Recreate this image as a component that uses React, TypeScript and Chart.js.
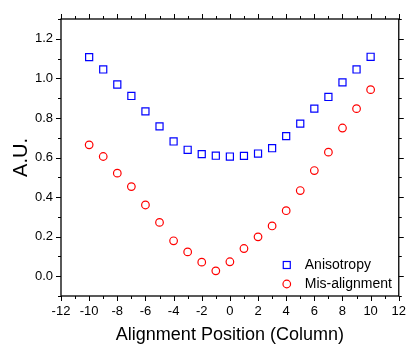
import React, { useEffect, useRef } from "react";
import { Chart, registerables } from "chart.js";

Chart.register(...registerables);

const positions = [-10, -9, -8, -7, -6, -5, -4, -3, -2, -1, 0, 1, 2, 3, 4, 5, 6, 7, 8, 9, 10];
const anisotropy = [1.107, 1.045, 0.969, 0.911, 0.833, 0.757, 0.681, 0.639, 0.617, 0.609, 0.605, 0.608, 0.62, 0.647, 0.708, 0.771, 0.847, 0.906, 0.98, 1.045, 1.109];
const misalignment = [0.664, 0.605, 0.521, 0.453, 0.36, 0.272, 0.179, 0.123, 0.071, 0.027, 0.073, 0.14, 0.199, 0.254, 0.331, 0.433, 0.534, 0.627, 0.749, 0.847, 0.943];
const xTickLabels = [-12, -10, -8, -6, -4, -2, 0, 2, 4, 6, 8, 10, 12];
const yTickLabels = [0.0, 0.2, 0.4, 0.6, 0.8, 1.0, 1.2];
const seriesNames = ["Anisotropy", "Mis-alignment"];
const xTitle = "Alignment Position (Column)";
const yTitle = "A.U.";

const FONT = "'Liberation Sans', Arial, sans-serif";

const framePlugin = {
  id: "frameTicks",
  afterDraw(chart: any) {
    const { ctx, chartArea } = chart;
    const { left, right, top, bottom } = chartArea;
    const xs = chart.scales.x;
    const ys = chart.scales.y;
    ctx.save();
    ctx.strokeStyle = "#000";
    ctx.lineWidth = 1.3;
    ctx.strokeRect(left, top, right - left, bottom - top);
    ctx.lineWidth = 1;
    ctx.beginPath();
    for (let v = -12; v <= 12; v++) {
      const p = Math.round(xs.getPixelForValue(v)) + 0.5;
      const len = v % 2 === 0 ? 5 : 3;
      ctx.moveTo(p, bottom);
      ctx.lineTo(p, bottom + len);
      ctx.moveTo(p, top);
      ctx.lineTo(p, top - len);
    }
    for (let i = -1; i <= 13; i++) {
      const v = i / 10;
      const p = Math.round(ys.getPixelForValue(v)) + 0.5;
      const len = i % 2 === 0 ? 5 : 3;
      ctx.moveTo(left, p);
      ctx.lineTo(left - len, p);
      ctx.moveTo(right, p);
      ctx.lineTo(right + len, p);
    }
    ctx.stroke();

    // legend
    const lx = right - 112;
    const ly1 = bottom - 31;
    const ly2 = bottom - 12;
    ctx.lineWidth = 1.2;
    ctx.strokeStyle = "#0000ff";
    ctx.strokeRect(lx - 3.5, ly1 - 3.5, 7, 7);
    ctx.strokeStyle = "#ff0000";
    ctx.beginPath();
    ctx.arc(lx, ly2, 3.8, 0, Math.PI * 2);
    ctx.stroke();
    ctx.fillStyle = "#000";
    ctx.font = "14px " + FONT;
    ctx.textBaseline = "middle";
    ctx.textAlign = "left";
    ctx.fillText(seriesNames[0], lx + 18, ly1);
    ctx.fillText(seriesNames[1], lx + 18, ly2);
    ctx.restore();
  },
};

export default function App() {
  const ref = useRef<HTMLCanvasElement | null>(null);
  useEffect(() => {
    document.body.style.margin = "0";
    const canvas = ref.current;
    if (!canvas) return;
    const chart = new Chart(canvas, {
      type: "scatter",
      data: {
        datasets: [
          {
            label: seriesNames[0],
            data: positions.map((x, i) => ({ x, y: anisotropy[i] })),
            pointStyle: "rect",
            pointRadius: 5,
            borderColor: "#0000ff",
            backgroundColor: "rgba(0,0,0,0)",
            borderWidth: 1.2,
          },
          {
            label: seriesNames[1],
            data: positions.map((x, i) => ({ x, y: misalignment[i] })),
            pointStyle: "circle",
            pointRadius: 3.8,
            borderColor: "#ff0000",
            backgroundColor: "rgba(0,0,0,0)",
            borderWidth: 1.2,
          },
        ],
      },
      options: {
        responsive: false,
        animation: false,
        layout: { padding: { left: 0, top: 19, right: 9, bottom: 0 } },
        plugins: { legend: { display: false }, tooltip: { enabled: false } },
        scales: {
          x: {
            type: "linear",
            min: -12,
            max: 12,
            grid: { display: false, drawTicks: false },
            border: { display: false },
            afterBuildTicks: (s: any) => {
              s.ticks = xTickLabels.map((v) => ({ value: v }));
            },
            afterFit: (s: any) => {
              s.height = 51;
            },
            ticks: {
              padding: 8,
              color: "#000",
              font: { size: 13, family: FONT },
              maxRotation: 0,
              autoSkip: false,
              callback: (v: any) => String(v),
            },
            title: {
              display: true,
              text: xTitle,
              color: "#000",
              font: { size: 18, family: FONT },
              padding: { top: 0, bottom: 1 },
            },
          },
          y: {
            type: "linear",
            min: -0.1,
            max: 1.3,
            grid: { display: false, drawTicks: false },
            border: { display: false },
            afterBuildTicks: (s: any) => {
              s.ticks = yTickLabels.map((v) => ({ value: v }));
            },
            afterFit: (s: any) => {
              s.width = 61;
            },
            ticks: {
              padding: 8,
              color: "#000",
              font: { size: 13, family: FONT },
              autoSkip: false,
              callback: (v: any) => Number(v).toFixed(1),
            },
            title: {
              display: true,
              text: yTitle,
              color: "#000",
              font: { size: 20, family: FONT },
              padding: { top: 9, bottom: 0 },
            },
          },
        },
      },
      plugins: [framePlugin],
    });
    return () => chart.destroy();
  }, []);
  return (
    <div style={{ width: 414, height: 347, background: "#fff" }}>
      <canvas ref={ref} width={414} height={347} style={{ display: "block" }} />
    </div>
  );
}
